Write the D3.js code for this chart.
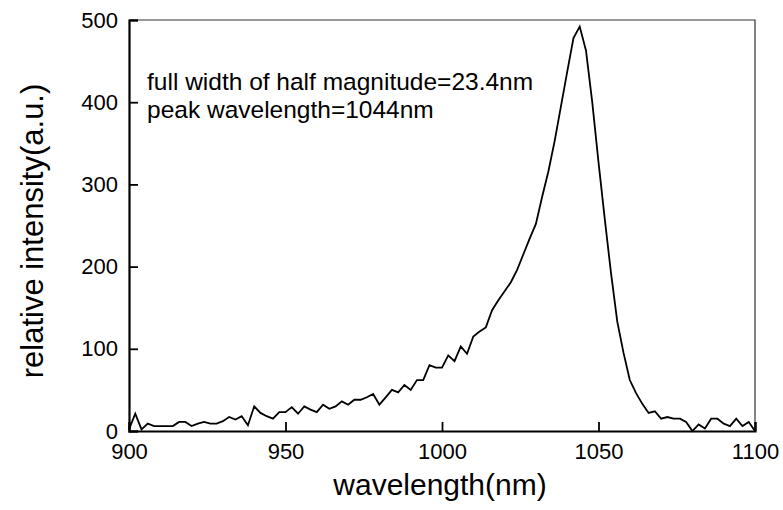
<!DOCTYPE html>
<html>
<head>
<meta charset="utf-8">
<script src="https://cdnjs.cloudflare.com/ajax/libs/d3/7.8.5/d3.min.js"></script>
<style>
  body { margin: 0; background: #fff; }
  text { font-family: "Liberation Sans", Arial, sans-serif; fill: #000; }
</style>
</head>
<body>
<div id="chart"></div>
<script>
// spectrum (2 nm steps)
var wavelengths = [900, 902, 904, 906, 908, 910, 912, 914, 916, 918,
    920, 922, 924, 926, 928, 930, 932, 934, 936, 938,
    940, 942, 944, 946, 948, 950, 952, 954, 956, 958,
    960, 962, 964, 966, 968, 970, 972, 974, 976, 978,
    980, 982, 984, 986, 988, 990, 992, 994, 996, 998,
    1000, 1002, 1004, 1006, 1008, 1010, 1012, 1014, 1016, 1018,
    1020, 1022, 1024, 1026, 1028, 1030, 1032, 1034, 1036, 1038,
    1040, 1042, 1044, 1046, 1048, 1050, 1052, 1054, 1056, 1058,
    1060, 1062, 1064, 1066, 1068, 1070, 1072, 1074, 1076, 1078,
    1080, 1082, 1084, 1086, 1088, 1090, 1092, 1094, 1096, 1098, 1100];

var intensity = [2, 21, 2, 9, 6, 6, 6, 6, 11, 11,
    6, 9, 11, 9, 9, 12, 17, 14, 18, 7,
    30, 22, 18, 15, 23, 23, 29, 21, 30, 26,
    23, 32, 27, 30, 36, 32, 38, 38, 41, 45,
    32, 41, 50, 47, 56, 50, 62, 62, 80, 77,
    77, 92, 85, 103, 94, 115, 121, 126, 147, 159,
    170, 181, 196, 215, 234, 252, 285, 316, 353, 395,
    437, 478, 492, 463, 400, 327, 258, 192, 133, 95,
    62, 46, 33, 22, 24, 15, 17, 15, 15, 11,
    0, 8, 3, 15, 15, 9, 6, 15, 6, 11, 0];

var xTicks = [900, 950, 1000, 1050, 1100];
var yTicks = [0, 100, 200, 300, 400, 500];
var notes = ["full width of half magnitude=23.4nm", "peak wavelength=1044nm"];

var svgWidth = 783;
var svgHeight = 510;
var margin = { top: 20, right: 28, bottom: 79, left: 129 };
var chart_width = svgWidth - margin.left - margin.right;
var chart_height = svgHeight - margin.top - margin.bottom;

var svg = d3.select("#chart")
    .append("svg")
    .attr("width", svgWidth)
    .attr("height", svgHeight);

var chartGroup = svg.append("g")
    .attr("transform", `translate(${margin.left}, ${margin.top})`);

var xScale = d3.scaleLinear().domain([900, 1100]).range([0, chart_width]);
var yScale = d3.scaleLinear().domain([0, 500]).range([chart_height, 0]);

// frame: thin top and right
chartGroup.append("path")
    .attr("d", `M0,0H${chart_width}V${chart_height}`)
    .attr("fill", "none")
    .attr("stroke", "#333")
    .attr("stroke-width", 1.2);

// axes, ticks inward
var bottomAxis = d3.axisBottom(xScale).tickValues(xTicks).tickSize(-9).tickPadding(12).tickFormat(d3.format("d"));
var leftAxis = d3.axisLeft(yScale).tickValues(yTicks).tickSize(-9).tickPadding(11).tickFormat(d3.format("d"));

var xAxis = chartGroup.append("g")
    .attr("transform", `translate(0, ${chart_height})`)
    .call(bottomAxis);

var yAxis = chartGroup.append("g")
    .call(leftAxis);

[xAxis, yAxis].forEach(function(ax) {
    ax.select(".domain").attr("stroke", "#000").attr("stroke-width", 2.2);
    ax.selectAll(".tick line").attr("stroke", "#000").attr("stroke-width", 1.8);
    ax.selectAll(".tick text")
        .attr("font-size", 22)
        .attr("font-family", "Liberation Sans, Arial, sans-serif")
        .attr("fill", "#000");
});

// spectrum line
var line = d3.line()
    .x((d, i) => xScale(wavelengths[i]))
    .y(d => yScale(d));

chartGroup.append("path")
    .datum(intensity)
    .attr("d", line)
    .attr("fill", "none")
    .attr("stroke", "#000")
    .attr("stroke-width", 1.8)
    .attr("stroke-linejoin", "miter");

// annotations
chartGroup.selectAll(".note")
    .data(notes)
    .enter()
    .append("text")
    .attr("class", "note")
    .attr("x", 18)
    .attr("y", (d, i) => 70 + i * 28)
    .attr("font-size", 24.5)
    .text(d => d);

// axis titles
chartGroup.append("text")
    .attr("x", chart_width / 2 - 2)
    .attr("y", chart_height + 64)
    .attr("text-anchor", "middle")
    .attr("font-size", 30)
    .text("wavelength(nm)");

chartGroup.append("text")
    .attr("transform", "rotate(-90)")
    .attr("x", -211)
    .attr("y", -margin.left + 43)
    .attr("text-anchor", "middle")
    .attr("font-size", 31)
    .text("relative intensity(a.u.)");
</script>
</body>
</html>
